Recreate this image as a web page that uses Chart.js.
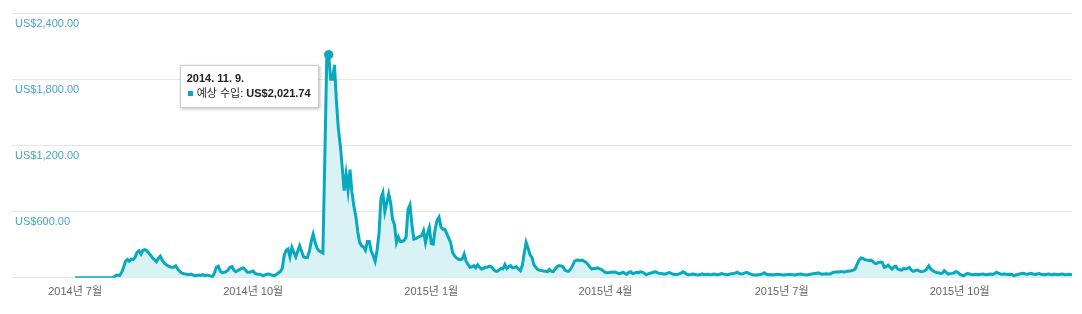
<!DOCTYPE html>
<html lang="ko">
<head>
<meta charset="utf-8">
<script src="https://cdn.jsdelivr.net/npm/chart.js@4"></script>
<style>
  body { margin: 0; background: #fff; }
  #wrap { position: relative; width: 1082px; height: 314px; }
  #tip {
    position: absolute; opacity: 0; pointer-events: none;
    background: #fff; border: 1px solid #ccc;
    box-shadow: 1px 1px 3px rgba(0, 0, 0, 0.25);
    padding: 5px 7px 6px 6px; color: #222; white-space: nowrap;
    font: 11px Arial, "Liberation Sans", "Noto Sans CJK KR", sans-serif;
    line-height: 15px;
  }
  #tip .sw { display: inline-block; width: 5px; height: 5px; background: #07a9bf; margin: 0 4px 1px 1px; }
</style>
</head>
<body>
<div id="wrap">
  <canvas id="earningsChart"></canvas>
  <div id="tip"></div>
</div>
<script>
// Daily estimated earnings (US$), first day = 2014-07-01
const startYear = 2014, startMonth = 7, startDay = 1;
const seriesName = '예상 수입';
const values = [
  0, 0, 0, 0, 0, 0, 0, 0, 0, 0,
  0, 0, 0, 0, 0, 0, 0, 0, 0, 2,
  5, 20, 25, 20, 48, 90, 150, 165, 150, 170,
  165, 185, 230, 245, 215, 250, 255, 245, 225, 205,
  180, 165, 145, 175, 195, 160, 135, 120, 108, 100,
  95, 95, 108, 80, 60, 45, 38, 35, 30, 28,
  33, 25, 18, 22, 25, 22, 28, 20, 25, 22,
  15, 12, 45, 95, 105, 60, 45, 50, 55, 70,
  95, 100, 70, 55, 65, 75, 85, 90, 70, 50,
  50, 55, 62, 40, 35, 32, 28, 20, 25, 32,
  35, 28, 22, 20, 30, 45, 55, 85, 200, 250,
  262, 190, 275, 230, 190, 240, 290, 240, 190, 185,
  185, 240, 330, 395, 320, 270, 245, 235, 225, 1080,
  1985, 2021.74, 1800, 1800, 1930, 1600, 1350, 1200, 1000, 790,
  940, 790, 980, 780, 650, 560, 420, 320, 290, 280,
  250, 330, 330, 240, 200, 150, 250, 400, 720, 770,
  600, 680, 760, 680, 530, 480, 320, 370, 330, 330,
  340, 370, 620, 660, 480, 350, 355, 365, 375, 380,
  425, 320, 400, 455, 310, 305, 440, 520, 550, 460,
  440, 440, 400, 360, 320, 230, 200, 180, 170, 165,
  170, 215, 150, 120, 95, 100, 110, 90, 118, 95,
  80, 85, 95, 95, 105, 100, 80, 62, 58, 70,
  85, 80, 120, 85, 100, 110, 90, 95, 100, 80,
  65, 110, 220, 320, 270, 210, 185, 120, 95, 75,
  68, 65, 62, 60, 55, 75, 58, 55, 80, 100,
  110, 108, 100, 70, 62, 60, 80, 110, 150, 160,
  162, 155, 160, 150, 140, 120, 95, 80, 85, 85,
  90, 80, 75, 60, 48, 45, 48, 52, 50, 52,
  45, 38, 40, 50, 40, 32, 48, 55, 38, 42,
  50, 45, 55, 52, 42, 28, 35, 42, 45, 52,
  55, 45, 40, 38, 35, 35, 42, 48, 40, 32,
  30, 30, 35, 42, 55, 45, 32, 28, 30, 35,
  32, 28, 25, 30, 35, 28, 30, 32, 27, 30,
  35, 30, 28, 32, 38, 33, 30, 28, 32, 36,
  38, 42, 50, 40, 35, 38, 45, 50, 40, 33,
  28, 25, 25, 28, 30, 35, 45, 32, 28, 30,
  25, 28, 30, 32, 30, 27, 25, 28, 30, 33,
  30, 28, 26, 30, 33, 35, 30, 28, 25, 30,
  33, 36, 40, 42, 45, 36, 33, 35, 36, 34,
  35, 45, 50, 52, 55, 52, 58, 52, 55, 60,
  62, 64, 70, 80, 125, 160, 180, 175, 165, 160,
  158, 160, 150, 133, 128, 140, 142, 140, 94, 100,
  115, 95, 79, 100, 105, 79, 72, 70, 85, 80,
  85, 94, 70, 58, 65, 70, 62, 55, 58, 65,
  80, 109, 80, 65, 55, 48, 45, 40, 42, 65,
  50, 33, 38, 40, 45, 55, 50, 33, 25, 18,
  30, 40, 35, 30, 28, 32, 30, 28, 32, 35,
  30, 28, 32, 35, 30, 38, 50, 42, 35, 33,
  35, 33, 30, 33, 30, 18, 25, 30, 35, 38,
  40, 35, 32, 38, 40, 33, 30, 35, 38, 32,
  30, 28, 32, 35, 30, 28, 33, 30, 27, 32,
  35, 30, 28, 32, 30, 28
];

// x axis: day offsets from the first day, and their labels
const tickDays = [0, 92, 184, 274, 365, 457];
const tickLabels = ['2014년 7월', '2014년 10월', '2015년 1월', '2015년 4월', '2015년 7월', '2015년 10월'];
const xMinDay = -32.6;

// y axis
const yMax = 2400;
const yStep = 600;

// highlighted point (tooltip)
const highlightDay = 131;

const FONT = 'Arial, "Liberation Sans", "Noto Sans CJK KR", sans-serif';
const LINE = '#07a9bf';

const money = v => 'US$' + v.toLocaleString('en-US', { minimumFractionDigits: 2, maximumFractionDigits: 2 });

function dayLabel(i) {
  const d = new Date(startYear, startMonth - 1, startDay + i);
  return `${d.getFullYear()}. ${d.getMonth() + 1}. ${d.getDate()}.`;
}

// HTML tooltip so the value can be bold
const tipEl = document.getElementById('tip');
function drawTip(context) {
  const tt = context.tooltip;
  if (tt.opacity === 0 || !tt.dataPoints || !tt.dataPoints.length) {
    tipEl.style.opacity = 0;
    return;
  }
  const p = tt.dataPoints[0];
  tipEl.innerHTML =
    `<div><b>${dayLabel(p.parsed.x)}</b></div>` +
    `<div><span class="sw"></span>${seriesName}: <b>${money(p.parsed.y)}</b></div>`;
  tipEl.style.opacity = 1;
  tipEl.style.left = (tt.caretX - tipEl.offsetWidth - 10) + 'px';
  tipEl.style.top = (tt.caretY + 10) + 'px';
}

const ctx = document.getElementById('earningsChart').getContext('2d');
const chart = new Chart(ctx, {
  type: 'line',
  data: {
    datasets: [{
      label: seriesName,
      data: values.map((v, i) => ({ x: i, y: v })),
      borderColor: LINE,
      borderWidth: 3,
      backgroundColor: '#d9f2f5',
      fill: 'origin',
      tension: 0,
      pointRadius: 0,
      pointHoverRadius: 4.5,
      pointHoverBackgroundColor: LINE,
      pointHoverBorderColor: 'rgba(90, 120, 130, 0.35)',
      pointHoverBorderWidth: 1
    }]
  },
  options: {
    responsive: true,
    maintainAspectRatio: false,
    animation: false,
    events: [],
    layout: { padding: { left: 6, right: 10, top: 13, bottom: 15 } },
    plugins: {
      legend: { display: false },
      tooltip: { enabled: false, external: drawTip }
    },
    scales: {
      x: {
        type: 'linear',
        min: xMinDay,
        max: values.length - 1,
        grid: { display: false },
        border: { display: false },
        afterBuildTicks: axis => {
          axis.ticks = tickDays.map(v => ({ value: v }));
        },
        ticks: {
          autoSkip: false,
          maxRotation: 0,
          padding: 0,
          color: '#666',
          font: { family: FONT, size: 11 },
          callback: v => tickLabels[tickDays.indexOf(v)] || ''
        }
      },
      y: {
        min: 0,
        max: yMax,
        grid: { color: '#e6e6e6', drawTicks: false },
        border: { display: false },
        ticks: {
          stepSize: yStep,
          mirror: true,
          padding: 3,
          labelOffset: 10.5,
          color: '#46a7c6',
          font: { family: FONT, size: 11 },
          callback: v => (v === 0 ? '' : money(v))
        }
      }
    }
  }
});

const active = [{ datasetIndex: 0, index: highlightDay }];
chart.setActiveElements(active);
chart.tooltip.setActiveElements(active, { x: 0, y: 0 });
chart.update();
</script>
</body>
</html>
